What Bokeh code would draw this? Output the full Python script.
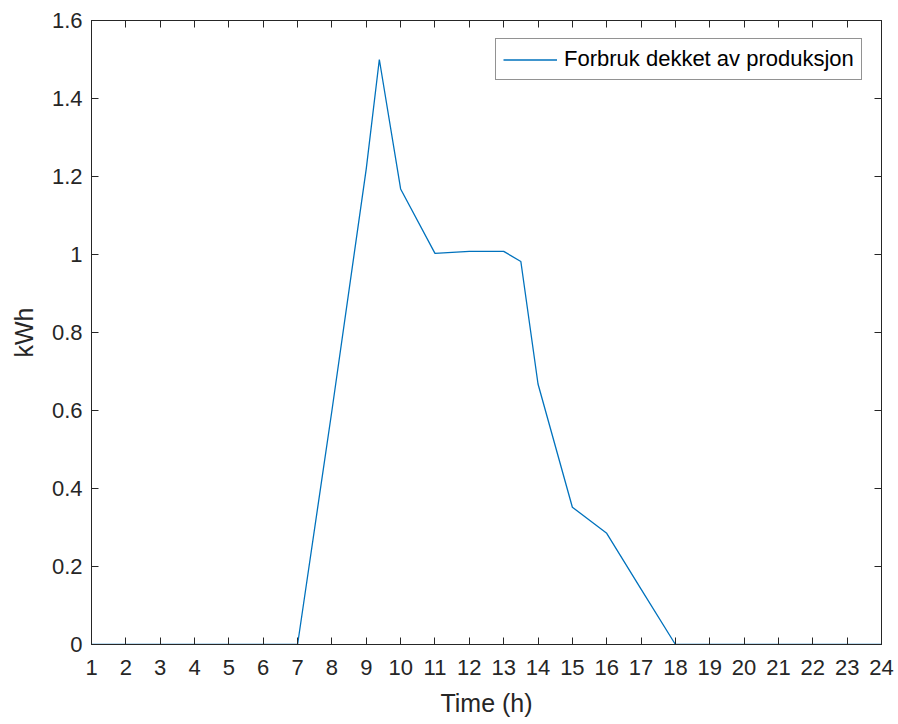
from bokeh.plotting import figure
from bokeh.models import (Range1d, LinearAxis, FixedTicker, CustomJSTickFormatter,
                          CustomLabelingPolicy, Legend, LegendItem)
from bokeh.embed import file_html
from bokeh.resources import INLINE

# Hourly energy consumption covered by own production
hours = [1, 2, 3, 4, 5, 6, 7, 8, 9, 9.38, 10, 11, 12, 13, 13.5, 14, 15, 16, 17, 18,
         19, 20, 21, 22, 23, 24]
kwh = [0, 0, 0, 0, 0, 0, 0, 0.6, 1.22, 1.5, 1.168, 1.003, 1.008, 1.008, 0.982, 0.668,
       0.352, 0.285, 0.142, 0, 0, 0, 0, 0, 0, 0]

x_ticks = list(range(1, 25))
y_ticks = [0, 0.2, 0.4, 0.6, 0.8, 1.0, 1.2, 1.4, 1.6]
series_label = "Forbruk dekket av produksjon"
x_title = "Time (h)"
y_title = "kWh"

AX = "#262626"
FONT = "Liberation Sans"

p = figure(width=898, height=724, output_backend="svg", toolbar_location=None,
           x_range=Range1d(1, 24), y_range=Range1d(0, 1.6),
           min_border_left=91, min_border_right=17, min_border_top=20,
           min_border_bottom=80)
p.background_fill_color = "white"
p.border_fill_color = "white"
p.outline_line_color = AX
p.outline_line_width = 1
p.grid.visible = False

ytick_fmt = CustomJSTickFormatter(code="return tick.toFixed(1).replace(/\\.0$/, '');")

def style_axis(ax):
    ax.axis_line_color = AX
    ax.major_tick_line_color = AX
    ax.major_tick_in = 7
    ax.major_tick_out = 0
    ax.minor_tick_line_color = None
    ax.major_label_text_font = FONT
    ax.major_label_text_font_size = "22px"
    ax.major_label_text_color = AX
    ax.axis_label_text_font = FONT
    ax.axis_label_text_font_size = "25px"
    ax.axis_label_text_font_style = "normal"
    ax.axis_label_text_color = AX

xb = p.xaxis[0]
xb.ticker = FixedTicker(ticks=x_ticks)
xb.axis_label = x_title
style_axis(xb)
xb.major_label_standoff = 15
xb.axis_label_standoff = 11

yl = p.yaxis[0]
yl.ticker = FixedTicker(ticks=y_ticks)
yl.formatter = ytick_fmt
yl.axis_label = y_title
style_axis(yl)
yl.major_label_standoff = 9
yl.axis_label_standoff = 11

# Mirror axes on top and right carry tick marks only, no labels
def mirror_axis():
    ax = LinearAxis(major_label_policy=CustomLabelingPolicy(code="return [];"))
    style_axis(ax)
    ax.major_label_standoff = 0
    ax.major_label_text_font_size = "1px"
    return ax

xt = mirror_axis()
xt.ticker = FixedTicker(ticks=x_ticks)
p.add_layout(xt, "above")
yr = mirror_axis()
yr.ticker = FixedTicker(ticks=y_ticks)
p.add_layout(yr, "right")

r = p.line(hours, kwh, line_color="#0072BD", line_width=1.3)

legend = Legend(items=[LegendItem(label=series_label, renderers=[r])],
                location=(404, 564), orientation="vertical")
legend.border_line_color = AX
legend.border_line_width = 1
legend.padding = 7
legend.margin = 0
legend.spacing = 0
legend.glyph_width = 54
legend.glyph_height = 21
legend.label_height = 21
legend.label_standoff = 7
legend.label_text_font = FONT
legend.label_text_font_size = "22px"
legend.label_text_color = "black"
legend.background_fill_color = "white"
legend.background_fill_alpha = 1
p.add_layout(legend, "center")

open("out.html", "w").write(file_html(p, INLINE))
